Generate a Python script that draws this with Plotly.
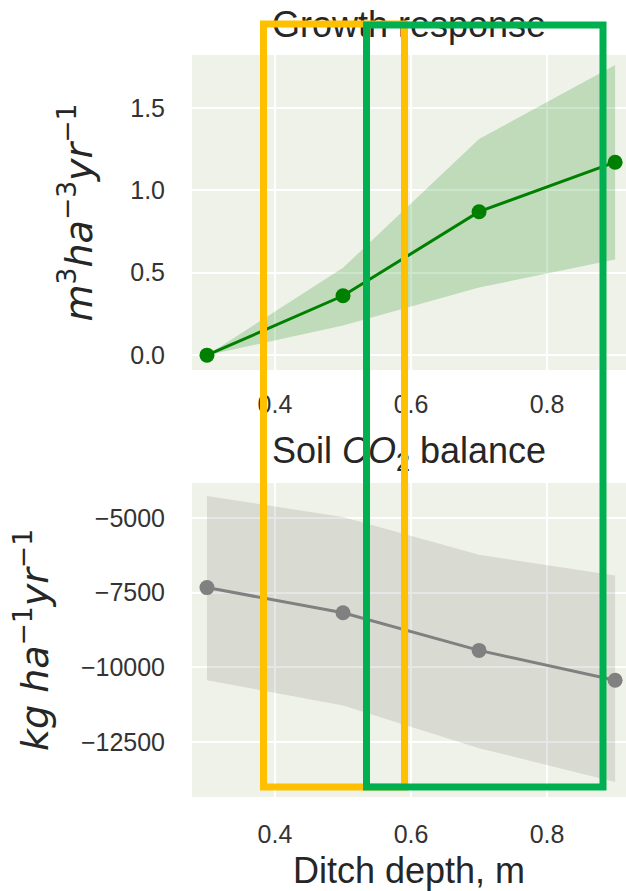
import plotly.graph_objects as go

# ---------------- data ----------------
depth = [0.3, 0.5, 0.7, 0.9]

growth_mean = [0.0, 0.36, 0.87, 1.17]
growth_low = [0.0, 0.18, 0.41, 0.58]
growth_high = [0.0, 0.53, 1.31, 1.76]

co2_mean = [-7330, -8170, -9430, -10430]
co2_low = [-10430, -11270, -12700, -13830]
co2_high = [-4270, -4970, -6230, -6930]

x_tickvals = [0.4, 0.6, 0.8]
x_ticktext = ["0.4", "0.6", "0.8"]
g_tickvals = [0.0, 0.5, 1.0, 1.5]
g_ticktext = ["0.0", "0.5", "1.0", "1.5"]
c_tickvals = [-5000, -7500, -10000, -12500]
c_ticktext = ["\u22125000", "\u22127500", "\u221210000", "\u221212500"]

# ---------------- layout helpers ----------------
W, H = 626, 891
FONT = "Liberation Sans, Arial, sans-serif"
MATH = "DejaVu Sans, sans-serif"
BG = "#eff2e8"
TXT = "#333333"
TITLE = "#262626"


def px_x(v):
    return v / W


def px_y(v):
    return 1 - v / H


fig = go.Figure()

# Growth response band + line
fig.add_trace(go.Scatter(x=depth, y=growth_low, mode="lines", line=dict(width=0),
                         showlegend=False, hoverinfo="skip", xaxis="x", yaxis="y"))
fig.add_trace(go.Scatter(x=depth, y=growth_high, mode="lines", line=dict(width=0),
                         fill="tonexty", fillcolor="rgba(0,128,0,0.2)",
                         showlegend=False, hoverinfo="skip", xaxis="x", yaxis="y"))
fig.add_trace(go.Scatter(x=depth, y=growth_mean, mode="lines+markers",
                         line=dict(color="#008000", width=3),
                         marker=dict(color="#008000", size=15),
                         showlegend=False, xaxis="x", yaxis="y"))

# Soil CO2 band + line
fig.add_trace(go.Scatter(x=depth, y=co2_low, mode="lines", line=dict(width=0),
                         showlegend=False, hoverinfo="skip", xaxis="x2", yaxis="y2"))
fig.add_trace(go.Scatter(x=depth, y=co2_high, mode="lines", line=dict(width=0),
                         fill="tonexty", fillcolor="rgba(128,128,128,0.2)",
                         showlegend=False, hoverinfo="skip", xaxis="x2", yaxis="y2"))
fig.add_trace(go.Scatter(x=depth, y=co2_mean, mode="lines+markers",
                         line=dict(color="#808080", width=3),
                         marker=dict(color="#808080", size=15),
                         showlegend=False, xaxis="x2", yaxis="y2"))

axis_common = dict(
    showgrid=True, gridcolor="white", gridwidth=2, zeroline=False,
    showline=False, ticks="", tickfont=dict(family=FONT, size=25, color=TXT),
    tickmode="array",
)

x_dom = [px_x(192), 1.0]
x_range = [0.278, 0.916]

fig.update_layout(
    width=W, height=H,
    margin=dict(l=0, r=0, t=0, b=0),
    paper_bgcolor="white",
    plot_bgcolor=BG,
    font=dict(family=FONT, color=TXT),
    xaxis=dict(domain=x_dom, range=x_range, anchor="y", tickvals=x_tickvals,
               ticktext=x_ticktext, ticklabelstandoff=17, **axis_common),
    yaxis=dict(domain=[px_y(370), px_y(55)], range=[-0.09, 1.82], anchor="x",
               tickvals=g_tickvals, ticktext=g_ticktext, ticklabelstandoff=26,
               title=dict(text="<i>m</i><sup>3</sup><i>ha</i><sup>\u22123</sup><i>yr</i><sup>\u22121</sup>",
                          font=dict(family=MATH, size=38, color=TITLE), standoff=25),
               **axis_common),
    xaxis2=dict(domain=x_dom, range=x_range, anchor="y2", tickvals=x_tickvals,
                ticktext=x_ticktext, ticklabelstandoff=20,
                title=dict(text="Ditch depth, m", font=dict(family=FONT, size=36, color=TITLE),
                           standoff=10),
                **axis_common),
    yaxis2=dict(domain=[px_y(797), px_y(483)], range=[-14333, -3833], anchor="x2",
                tickvals=c_tickvals, ticktext=c_ticktext, ticklabelstandoff=26,
                title=dict(text="<i>kg</i> <i>ha</i><sup>\u22121</sup><i>yr</i><sup>\u22121</sup>",
                           font=dict(family=MATH, size=38, color=TITLE), standoff=20),
                **axis_common),
)

shapes = []
# panel titles drawn as shape labels so the highlight boxes can sit above them
shapes.append(dict(type="rect", xref="paper", yref="paper", layer="above",
                   x0=px_x(192), x1=1.0, y0=px_y(42), y1=px_y(0),
                   line=dict(width=0), fillcolor="rgba(0,0,0,0)",
                   label=dict(text="Growth response", textposition="middle center",
                              font=dict(family=FONT, size=36, color=TITLE))))
shapes.append(dict(type="rect", xref="paper", yref="paper", layer="above",
                   x0=px_x(192), x1=1.0, y0=px_y(472), y1=px_y(428),
                   line=dict(width=0), fillcolor="rgba(0,0,0,0)",
                   label=dict(text="Soil <i>CO</i><sub>2</sub> balance", textposition="middle center",
                              font=dict(family=FONT, size=36, color=TITLE))))
# highlight boxes
shapes.append(dict(type="rect", xref="paper", yref="paper", layer="above",
                   x0=px_x(263.5), x1=px_x(404.5), y0=px_y(787), y1=px_y(24),
                   line=dict(color="#FFC000", width=7), fillcolor="rgba(0,0,0,0)"))
shapes.append(dict(type="rect", xref="paper", yref="paper", layer="above",
                   x0=px_x(366.5), x1=px_x(603), y0=px_y(787), y1=px_y(25),
                   line=dict(color="#00B050", width=7), fillcolor="rgba(0,0,0,0)"))
fig.update_layout(shapes=shapes)

fig.write_html("out.html", config={"displayModeBar": False},
               post_script="document.body.style.margin='0';document.body.style.padding='0';")
